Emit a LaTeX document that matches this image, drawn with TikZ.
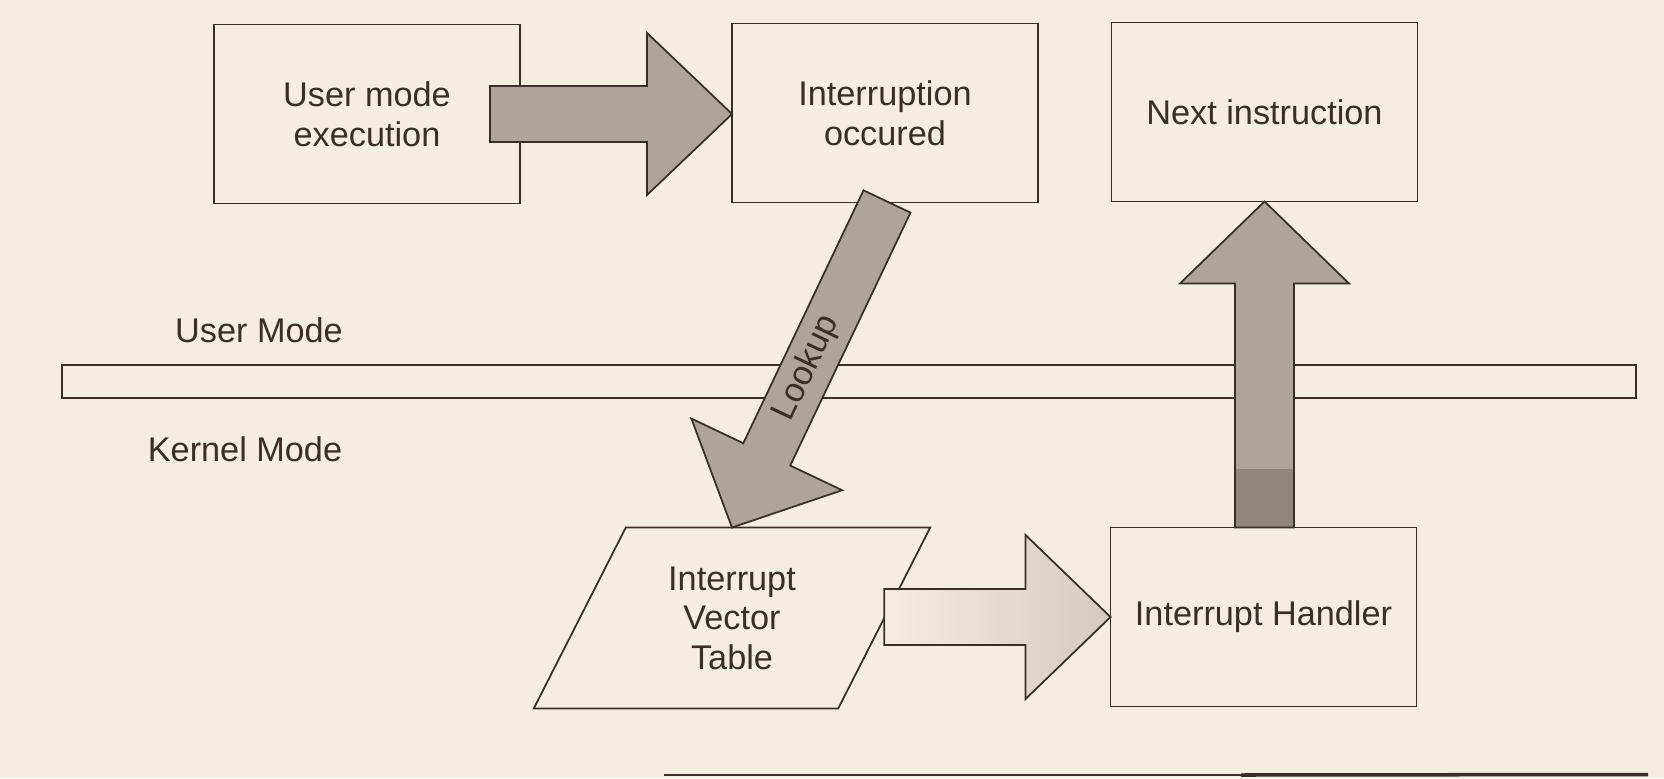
\documentclass[tikz,border=0pt]{standalone}
\usepackage{fontspec}
\setmainfont{Liberation Sans}
\usetikzlibrary{calc}
\definecolor{bg}{HTML}{F4EEE0}
\definecolor{ink}{HTML}{3A2E26}
\definecolor{afill}{HTML}{ADA49A}
\definecolor{adark}{HTML}{908679}
\definecolor{alight}{HTML}{D3CBBE}
% #1 path options, #2 start, #3 tip, #4 half shaft, #5 half head, #6 head length
\newcommand\blockarrow[6]{%
  \coordinate (ba-s) at #2;
  \coordinate (ba-t) at #3;
  \coordinate (ba-h) at ($(ba-t)!#6!(ba-s)$);
  \path[#1] ($(ba-s)!#4!90:(ba-t)$) -- ($(ba-h)!#4!90:(ba-t)$)
    -- ($(ba-h)!#5!90:(ba-t)$) -- (ba-t) -- ($(ba-h)!#5!-90:(ba-t)$)
    -- ($(ba-h)!#4!-90:(ba-t)$) -- ($(ba-s)!#4!-90:(ba-t)$) -- cycle;
}
\begin{document}
\begin{tikzpicture}[x=0.02cm,y=-0.02cm,
  txt/.style={text=ink, font=\fontsize{19.5pt}{22.5pt}\selectfont, align=center},
  box/.style={txt, draw=ink, line width=1pt, fill=bg, minimum width=6.12cm,
    minimum height=3.58cm, inner sep=0pt, outer sep=0pt},
  pbody/.style={txt, minimum width=6.09cm, minimum height=3.62cm, inner sep=0pt, outer sep=0pt},
  barbox/.style={draw=ink, line width=0.8pt, fill=bg, minimum width=31.48cm,
    minimum height=0.66cm, inner sep=0pt, outer sep=0pt},
  darrow/.style={fill=afill, draw=ink, line width=1pt, line join=miter},
  larrow/.style={left color=bg, right color=alight, draw=ink, line width=1pt, line join=miter},
]
\fill[bg] (0,0) rectangle (1664,778);
\useasboundingbox (0,0) rectangle (1664,778);

% mode separator
\node[barbox] (bar) at (849,381.5) {};
\node[txt] (um) at (259,330) {User Mode};
\node[txt] (km) at (245,449) {Kernel Mode};

% boxes
\node[box] (b1) at (367,114) {User mode\\execution};
\node[box] (b2) at (885,113) {Interruption\\occured};
\node[box] (b3) at (1264.5,112) {Next instruction};
\node[box] (b4) at (1263.5,617) {Interrupt Handler};

% parallelogram
\node[pbody] (pv) at (732,618) {};
\fill[bg, draw=ink, line width=1pt]
  ($(pv.north west)+(46,0)$) -- ($(pv.north east)+(46,0)$)
  -- ($(pv.south east)+(-46,0)$) -- ($(pv.south west)+(-46,0)$) -- cycle;
\node[txt] (pvt) at (pv.center) {Interrupt\\Vector\\Table};

% arrows
\blockarrow{darrow}{($(b1.east)+(-30,0)$)}{(b1.east -| b2.west)}{0.56cm}{1.62cm}{1.7cm}
\blockarrow{darrow}{($(b2.south)+(2,-1)$)}{(pv.north)}{0.52cm}{1.67cm}{1.62cm}
\node[txt, rotate=64.6] (lk) at ($(b2.south)!0.51!(pv.north)$) {Lookup};
\blockarrow{larrow}{(pv.east |- b4.west)}{(b4.west)}{0.56cm}{1.64cm}{1.7cm}
\blockarrow{fill=afill}{(b3.south |- b4.north)}{(b3.south)}{0.59cm}{1.69cm}{1.64cm}
\fill[adark] ($(b4.north)+(-29.5,0)$) rectangle ($(b4.north)+(29.5,-59)$);
\blockarrow{draw=ink, line width=1pt, line join=miter}{(b3.south |- b4.north)}{(b3.south)}{0.59cm}{1.69cm}{1.64cm}

% bottom rule
\coordinate (r1) at (664,775);
\coordinate (r2) at (1241,775);
\coordinate (r3) at (1648,774.5);
\draw[ink, line width=1.1pt] (r1) -- (r2);
\draw[ink, line width=2pt] (r2) -- (r3);
\end{tikzpicture}
\end{document}
